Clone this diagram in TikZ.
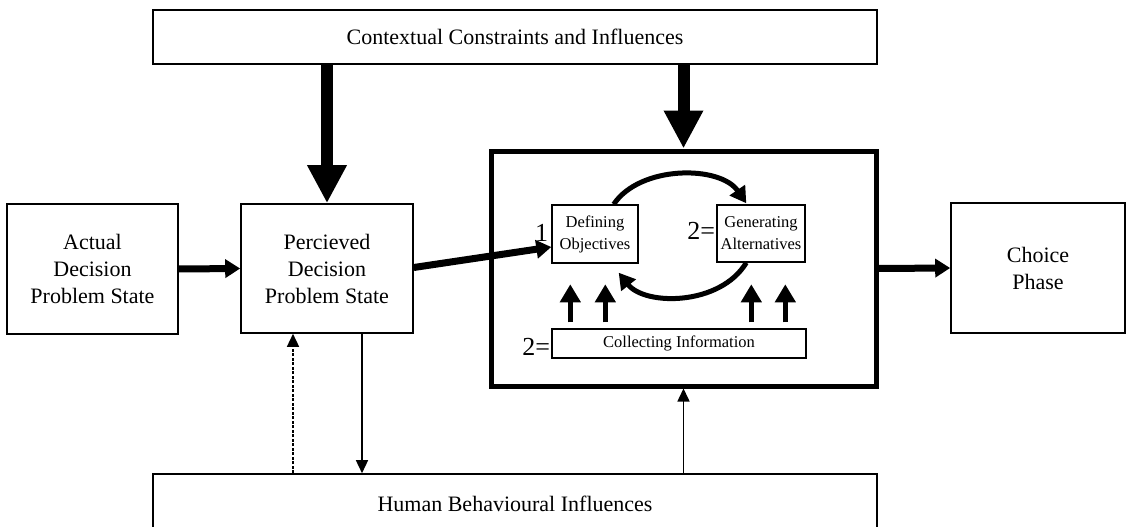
\documentclass[tikz,border=0pt]{standalone}
\usepackage{fontspec}
\setmainfont{Liberation Serif}
\usetikzlibrary{arrows.meta,calc}
\begin{document}
\begin{tikzpicture}[x=1pt,y=-1pt,
  box/.style={draw, line width=1.6pt, rectangle, align=center, inner sep=0pt,
    font=\fontsize{22}{27}\selectfont},
  smallbox/.style={draw, line width=1.4pt, rectangle, align=center, inner sep=0pt,
    font=\fontsize{16.5}{22}\selectfont},
  stage/.style={draw, line width=5pt, rectangle, inner sep=0pt},
  lbl/.style={inner sep=1pt, font=\fontsize{26}{30}\selectfont},
  bigarrow/.style={line width=12pt, -{Triangle[length=38pt,width=37pt]}},
  flowarrow/.style={line width=7pt, -{Triangle[length=15pt,width=18pt]}},
  looparrow/.style={line width=5pt, -{Triangle[length=16pt,width=18pt]}},
  uparrow/.style={line width=5.5pt, -{Triangle[length=18pt,width=20pt]}},
  thinarrow/.style={line width=1.5pt, -{Triangle[length=13pt,width=12pt]}}
]
\useasboundingbox (0,0) rectangle (1128,527);

% outer boxes
\node[box, minimum width=724pt, minimum height=54pt] (ctx) at (515,37) {Contextual Constraints and Influences};
\node[box, minimum width=171pt, minimum height=130pt] (act) at (92.5,269) {Actual\\Decision\\Problem State};
\node[box, minimum width=172pt, minimum height=129pt] (per) at (327,268.5) {Percieved\\Decision\\Problem State};
\node[box, minimum width=174pt, minimum height=130pt] (cho) at (1038,268) {Choice\\Phase};
\node[box, minimum width=724pt, minimum height=60pt] (hum) at (515,504) {Human Behavioural Influences};

% framing phase
\node[stage, minimum width=385pt, minimum height=235pt] (big) at (683.5,268.5) {};
\node[smallbox, minimum width=86pt, minimum height=58pt] (def) at (595,234) {Defining\\Objectives};
\node[smallbox, minimum width=88pt, minimum height=57pt] (gen) at (761,233.5) {Generating\\Alternatives};
\node[smallbox, minimum width=254pt, minimum height=29pt] (col) at (679,343.5) {Collecting Information};
\node[lbl, anchor=east] (n1) at ($(def.west)+(-2,-1)$) {1};
\node[lbl, anchor=east] (n2) at ($(gen.west)+(0,-3)$) {2=};
\node[lbl, anchor=east] (n3) at ($(col.west)+(0,3)$) {2=};

% influences from above
\draw[bigarrow] (ctx.south -| per.north) -- (per.north);
\draw[bigarrow] (ctx.south -| big.north) -- (big.north);

% main flow
\draw[flowarrow] (act.east) -- (per.west);
\draw[flowarrow] ($(per.east)+(0,-1)$) -- ($(def.west)+(0,13)$);
\draw[flowarrow] (big.east) -- (cho.west);

% iteration between objectives and alternatives
\draw[looparrow] ($(def.north east)+(-25,0)$) .. controls (640,165) and (720,165) .. ($(gen.north west)+(30,-1)$);
\draw[looparrow] ($(gen.south west)+(30,0)$) .. controls (720,306) and (645,306) .. ($(def.south east)+(-20,9)$);

% information feeding both activities
\foreach \dx in {19,54,200,234}
  \draw[uparrow] ($(col.north west)+(\dx,-6)$) -- ++(0,-38);

% behavioural links
\coordinate (pa) at ($(per.south)+(-34,0)$);
\coordinate (pb) at ($(per.south)+(35,0)$);
\draw[thinarrow, dash pattern=on 3pt off 1.5pt] (hum.north -| pa) -- (pa);
\draw[thinarrow] (pb) -- (hum.north -| pb);
\draw[thinarrow] (hum.north -| big.south) -- (big.south);
\end{tikzpicture}
\end{document}
